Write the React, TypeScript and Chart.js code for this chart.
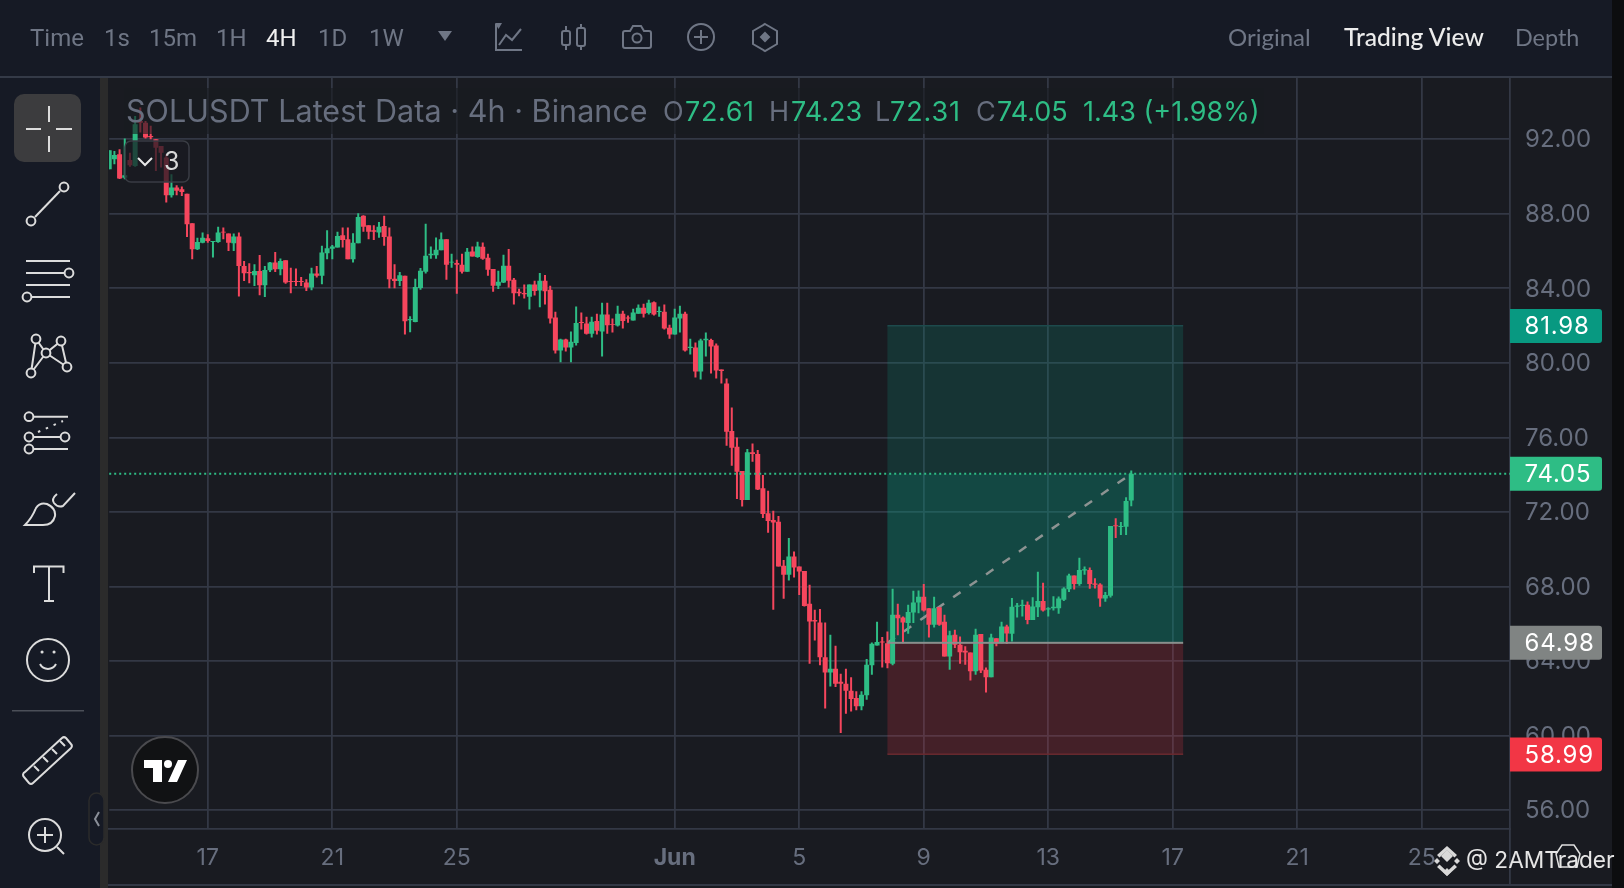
import React, { useEffect, useRef } from "react";
import { Chart, registerables } from "chart.js";

Chart.register(...registerables);

const opens = [90.39,90.93,91.19,89.94,90.89,90.57,92.98,92.89,92.18,92.00,91.64,91.02,88.99,89.41,89.32,89.08,87.49,86.10,86.45,86.69,86.49,86.49,87.04,86.94,86.42,86.78,85.20,84.88,84.70,84.93,84.16,84.97,85.38,85.02,85.51,84.40,84.40,84.40,84.31,84.04,84.79,84.67,85.88,86.13,86.19,86.85,86.63,85.56,86.42,87.89,87.38,87.12,86.99,87.35,86.78,84.52,84.40,84.68,82.29,82.20,84.02,84.89,85.77,85.77,86.04,86.64,85.38,85.36,85.27,84.89,85.98,85.68,86.23,85.64,85.04,84.14,84.32,85.21,84.46,83.82,83.75,83.55,84.21,83.88,84.41,83.93,82.43,80.66,81.25,80.82,81.07,82.20,82.11,81.57,82.25,81.68,82.59,82.09,82.00,82.64,82.43,82.27,82.64,82.96,82.68,83.25,82.73,82.75,81.89,81.52,82.38,82.64,80.80,80.82,79.54,81.21,81.23,80.93,79.64,78.89,76.34,75.50,74.20,72.64,75.20,75.11,73.27,71.93,71.57,71.48,69.11,68.63,69.61,69.07,68.84,67.07,66.21,66.07,64.21,63.39,63.59,62.89,62.79,62.41,62.02,61.57,62.16,63.77,64.84,65.05,64.96,63.86,66.48,66.34,66.04,66.61,67.14,67.45,66.84,65.95,66.89,66.11,64.25,65.41,64.88,64.55,64.46,63.45,65.45,63.54,63.13,65.23,64.96,65.86,65.46,66.91,66.95,67.02,66.21,66.89,67.23,66.77,66.84,66.84,67.29,67.86,68.59,68.14,68.86,68.89,68.16,68.11,67.36,67.50,71.29,71.20,71.21,72.61];
const highs = [91.41,91.37,91.46,92.04,91.28,93.25,93.70,92.98,92.72,92.00,91.64,91.19,90.12,89.53,89.46,89.08,87.49,86.72,86.99,86.90,86.54,87.31,87.26,86.94,86.94,86.99,85.47,85.35,85.29,85.79,85.20,85.42,85.95,85.60,85.51,85.11,85.06,84.61,84.49,85.11,85.20,86.28,87.12,86.33,87.03,87.26,87.26,86.96,88.03,87.92,87.38,87.38,87.56,87.89,87.26,85.29,84.88,84.68,82.50,84.52,85.09,87.46,86.25,86.73,87.00,86.64,85.86,85.54,85.86,86.16,86.25,86.50,86.46,85.86,85.04,84.95,85.80,86.11,84.55,83.98,84.20,84.20,84.41,84.82,84.71,84.14,82.75,81.30,81.30,81.68,83.02,82.70,82.48,82.48,82.64,83.23,83.23,82.38,83.07,82.80,82.54,82.91,83.13,83.18,83.39,83.29,83.02,83.13,82.05,82.91,83.07,82.75,81.30,81.09,81.30,81.63,81.30,81.04,79.64,79.16,77.61,76.00,74.20,75.38,75.68,75.32,73.98,73.14,72.07,71.79,69.43,70.61,69.88,69.07,68.84,68.09,66.75,66.80,66.07,65.41,64.82,63.32,63.59,63.13,62.38,62.38,64.11,65.00,66.11,65.29,65.59,67.88,67.07,66.39,67.02,67.77,67.79,68.14,66.84,67.45,66.89,66.48,65.63,65.68,65.32,64.79,64.46,65.73,65.45,63.66,65.46,65.23,66.11,65.95,67.38,67.11,67.29,67.20,67.43,68.79,68.20,66.89,67.48,67.46,67.96,68.68,68.59,69.54,69.07,69.02,68.45,68.18,67.71,71.25,71.66,71.46,72.79,74.23];
const lows = [90.39,90.66,89.87,89.85,90.53,90.53,92.36,92.04,92.00,90.30,90.48,88.60,88.87,88.99,88.96,86.76,85.56,86.06,86.42,86.45,85.65,86.45,86.63,86.01,86.01,83.56,84.40,84.27,84.13,83.63,83.54,84.88,84.88,84.70,84.25,83.74,84.13,84.13,83.86,83.90,84.58,84.22,85.56,85.56,86.19,86.19,85.56,85.38,86.42,87.03,86.63,86.60,86.72,86.28,84.00,84.00,84.13,81.52,81.64,82.18,83.93,84.79,85.59,85.59,86.04,84.46,85.11,83.71,84.79,84.89,85.71,85.64,85.54,84.68,83.82,83.96,84.29,84.04,83.13,83.57,83.45,82.86,83.61,82.98,83.13,82.11,80.50,80.04,80.61,80.04,80.93,81.79,81.52,81.36,81.52,80.34,81.57,81.63,81.95,81.84,82.16,82.27,82.64,82.43,82.59,82.54,82.48,81.79,81.30,81.52,81.63,80.61,80.45,79.21,79.11,80.34,79.43,79.16,78.89,75.55,74.48,72.70,72.29,72.64,74.70,73.18,71.68,70.89,66.75,69.07,67.34,68.32,68.48,67.55,66.93,63.86,65.11,63.77,61.45,62.64,62.61,60.14,61.18,61.30,61.36,61.36,61.93,63.27,64.84,63.66,63.61,63.77,65.38,64.96,65.46,66.04,66.57,66.66,65.27,65.80,65.89,64.25,63.54,64.70,63.86,63.80,62.96,63.27,63.36,62.32,63.13,64.79,64.96,64.91,65.05,66.34,66.39,65.98,66.21,66.36,66.66,66.39,66.71,66.54,67.23,67.71,67.84,68.04,68.63,67.88,67.89,66.91,67.18,67.41,70.61,70.77,70.77,72.31];
const closes = [91.41,91.16,89.89,90.07,90.60,92.81,92.89,92.09,92.11,91.55,91.28,88.99,89.41,89.23,89.17,87.44,86.10,86.49,86.72,86.54,86.54,86.99,86.99,86.45,86.78,85.20,84.81,84.81,84.93,84.16,84.99,85.38,85.02,85.47,84.31,84.34,84.34,84.34,84.04,84.79,84.67,85.92,86.15,86.24,86.81,86.60,85.56,86.45,87.83,87.31,87.03,87.03,87.31,86.76,84.49,84.40,84.70,82.23,82.36,84.07,84.95,85.75,85.86,86.07,86.64,85.27,85.43,85.27,84.89,85.96,85.71,86.25,85.59,85.00,84.14,84.36,85.21,84.41,83.73,83.73,83.68,84.20,83.86,84.41,83.84,82.38,80.66,81.25,80.82,81.14,82.14,82.14,81.57,82.21,81.73,82.59,82.02,82.04,82.64,82.25,82.38,82.70,82.96,82.64,83.23,82.59,82.79,81.84,81.52,82.43,82.64,80.66,80.86,79.54,81.20,81.29,80.88,79.59,79.57,76.30,75.45,74.16,72.64,75.20,75.11,73.21,71.89,71.52,71.43,69.07,68.63,69.61,69.02,68.80,66.96,66.13,66.13,64.20,63.39,63.59,62.79,62.79,62.41,61.96,61.57,62.20,63.80,64.93,65.02,65.00,63.89,66.48,66.30,66.07,66.64,67.14,67.45,66.71,65.95,66.84,65.95,64.25,65.38,64.88,64.48,64.46,63.45,65.41,63.50,63.13,65.27,64.96,65.86,65.48,66.91,66.98,67.02,66.21,66.93,67.23,66.71,66.84,66.91,67.36,67.89,68.59,68.14,68.89,68.93,68.14,68.09,67.36,67.55,71.25,71.23,71.25,72.59,74.05];

const tickDays = ["May 17", "May 21", "May 25", "Jun 1", "Jun 5", "Jun 9", "Jun 13", "Jun 17", "Jun 21", "Jun 25"];
const tickLabels = ["17", "21", "25", "Jun", "5", "9", "13", "17", "21", "25"];
const priceTicks = [56, 60, 64, 68, 72, 76, 80, 84, 88, 92];
const priceRange = [54.99, 95.34];

const takeProfit = 81.98;
const entryPrice = 64.98;
const stopLoss = 58.99;
const lastPrice = 74.05;
const positionSpan = [150, 207];

const GREEN = "#2ebd85";
const RED = "#f6465d";
const GRID = "#333845";
const MUTED = "#676e7e";
const TICK_FONT = "Inter";

const monthNames = ["May", "Jun"];
const categories: string[] = [];
for (let i = 0; i < 271; i++) {
  const t = new Date(Date.UTC(2024, 4, 13, 20 + i * 4));
  categories.push(`${monthNames[t.getUTCMonth() - 4]} ${t.getUTCDate()} ${String(t.getUTCHours()).padStart(2, "0")}:00`);
}

const riskZonePlugin = {
  id: "riskZone",
  beforeDatasetsDraw(chart: any) {
    const { ctx, scales } = chart;
    const x0 = scales.x.getPixelForValue(positionSpan[0]);
    const x1 = scales.x.getPixelForValue(positionSpan[1]);
    const py = (v: number) => scales.y.getPixelForValue(v);
    const w = x1 - x0;
    ctx.save();
    ctx.fillStyle = "rgba(8,153,129,0.2)";
    ctx.fillRect(x0, py(takeProfit), w, py(entryPrice) - py(takeProfit));
    ctx.fillRect(x0, py(lastPrice), w, py(entryPrice) - py(lastPrice));
    ctx.fillStyle = "rgba(242,54,69,0.2)";
    ctx.fillRect(x0, py(entryPrice), w, py(stopLoss) - py(entryPrice));
    ctx.fillStyle = "#6a2a30";
    ctx.fillRect(x0, py(stopLoss) - 1, w, 1.5);
    ctx.fillStyle = "#1d4a4c";
    ctx.fillRect(x0, py(takeProfit) - 1, w, 1.5);
    ctx.restore();
  },
  afterDatasetsDraw(chart: any) {
    const { ctx, scales } = chart;
    const x0 = scales.x.getPixelForValue(positionSpan[0]);
    const x1 = scales.x.getPixelForValue(positionSpan[1]);
    ctx.save();
    ctx.fillStyle = "#8a8f8d";
    ctx.fillRect(x0, scales.y.getPixelForValue(entryPrice) - 1, x1 - x0, 2);
    ctx.restore();
  },
  afterDraw(chart: any) {
    const { ctx, scales } = chart;
    const tags: [number, string][] = [
      [takeProfit, "#089981"],
      [lastPrice, GREEN],
      [entryPrice, "#808483"],
      [stopLoss, "#f23645"],
    ];
    ctx.save();
    ctx.font = `24px ${TICK_FONT}`;
    ctx.textBaseline = "middle";
    ctx.textAlign = "left";
    ctx.letterSpacing = "0.8px";
    for (const [v, c] of tags) {
      const y = scales.y.getPixelForValue(v);
      ctx.fillStyle = c;
      ctx.beginPath();
      ctx.roundRect(1510, y - 17, 92, 34, [0, 3, 3, 0]);
      ctx.fill();
      ctx.fillStyle = "#ffffff";
      ctx.fillText(v.toFixed(2), 1524.5, y + 1);
    }
    ctx.restore();
  },
};

const T = (p: any) => <text fontFamily="Roboto" fontSize={24} dominantBaseline="middle" {...p} />;

function Overlay() {
  const ink = "#dcdcdc";
  const headerInk = "#6f7685";
  const dot = (cx: number, cy: number, r = 4.4) => <circle cx={cx} cy={cy} r={r} fill="#161a25" stroke={ink} strokeWidth={2} />;
  return (
    <svg width={1624} height={888} style={{ position: "absolute", left: 0, top: 0 }}>
      <rect x={0} y={0} width={1612} height={76} fill="#161a25" />
      <rect x={0} y={76} width={1612} height={2} fill="#343a47" />
      <rect x={0} y={78} width={100} height={810} fill="#161a25" />
      <rect x={100} y={78} width={8} height={810} fill="#2b2b2b" />
      <rect x={1612} y={0} width={12} height={888} fill="#0c0d0f" />
      <rect x={1509} y={829} width={1.8} height={56} fill={GRID} />
      <rect x={108} y={884} width={1504} height={2} fill={GRID} />

      <g fill={headerInk}>
        <T x={30} y={40}>Time</T>
        <T x={104} y={40}>1s</T>
        <T x={149} y={40}>15m</T>
        <T x={216} y={40}>1H</T>
        <T x={266} y={40} fill="#f0f0f0">4H</T>
        <T x={318} y={40}>1D</T>
        <T x={369} y={40}>1W</T>
        <path d="M438 31 h14 l-7 10 z" />
      </g>
      <g fill="none" stroke={headerInk} strokeWidth={2}>
        <path d="M496 24 v26 h26 M499 45 l7 -10 l6 5 l9 -11" />
        <path d="M495 23 h7 l-3.5 6 z" fill={headerInk} stroke="none" />
        <rect x={562} y={31} width={8} height={14} rx={2} />
        <rect x={577} y={28} width={8} height={18} rx={2} />
        <path d="M566 26 v5 M566 45 v5 M581 24 v4 M581 46 v4" />
        <path d="M625 31 h5 l3 -5 h8 l3 5 h5 a2 2 0 0 1 2 2 v13 a2 2 0 0 1 -2 2 h-24 a2 2 0 0 1 -2 -2 v-13 a2 2 0 0 1 2 -2 z" />
        <circle cx={637} cy={38} r={4.5} />
        <circle cx={701} cy={37} r={13} />
        <path d="M701 30 v14 M694 37 h14" />
        <path d="M765 24 l12 7 v13 l-12 7 l-12 -7 v-13 z" />
        <path d="M765 33 l4 4 l-4 4 l-4 -4 z" fill={headerInk} />
      </g>

      <T x={1228} y={40} fontFamily="Lato" fontSize={24} fill={headerInk}>Original</T>
      <T x={1344} y={40} fontFamily="Lato" fontSize={24.6} fontWeight={500} fill="#ececec">Trading View</T>
      <T x={1515} y={40} fontFamily="Lato" fontSize={23.4} fill={headerInk}>Depth</T>

      <rect x={124} y={88} width={1140} height={46} fill="rgba(25,27,33,0.62)" />
      <T x={126} y={114} fontFamily="Inter" fontSize={30.5} letterSpacing={0.05} fill={MUTED}>SOLUSDT Latest Data · 4h · Binance</T>
      <T x={663} y={114} fontFamily="Inter" fontSize={27} fill={MUTED}>O</T>
      <T x={685} y={114} fontFamily="Inter" fontSize={27} letterSpacing={0.6} fill={GREEN}>72.61</T>
      <T x={769} y={114} fontFamily="Inter" fontSize={27} fill={MUTED}>H</T>
      <T x={791} y={114} fontFamily="Inter" fontSize={27} fill={GREEN}>74.23</T>
      <T x={875} y={114} fontFamily="Inter" fontSize={27} fill={MUTED}>L</T>
      <T x={890} y={114} fontFamily="Inter" fontSize={27} letterSpacing={0.9} fill={GREEN}>72.31</T>
      <T x={976} y={114} fontFamily="Inter" fontSize={27} fill={MUTED}>C</T>
      <T x={997} y={114} fontFamily="Inter" fontSize={27} fill={GREEN}>74.05</T>
      <T x={1083} y={114} fontFamily="Inter" fontSize={27} fill={GREEN}>1.43 (+1.98%)</T>

      <rect x={125} y={141} width={64} height={41} rx={6} fill="rgba(25,27,33,0.72)" stroke="#3a3d44" strokeWidth={1.5} />
      <path d="M138 158 l7 7 l7 -7" fill="none" stroke="#e8e8e8" strokeWidth={2} />
      <T x={164} y={163} fontFamily="Inter" fontSize={25} fill="#d8d8d8">3</T>

      <rect x={14} y={94} width={67} height={68} rx={10} fill="#3c3c3e" />
      <g fill="none" stroke={ink} strokeWidth={2}>
        <path d="M49 106 v16 M49 136 v16 M26 129 h15 M56 129 h16" />
        <path d="M35 217 L60 191" />
        {dot(31, 221)}
        {dot(64, 187)}
        <path d="M26 261 h44 M26 273 h39 M26 285 h44 M31 297 h39" />
        {dot(69, 273)}
        {dot(27, 297)}
        <path d="M31 373 L36 339 L46 353 L61 341 L67 367 M31 373 L46 353 L67 367" />
        {dot(36, 339)}
        {dot(61, 341)}
        {dot(46, 353)}
        {dot(31, 373)}
        {dot(67, 367)}
        <path d="M33 416.700 h35 M33 437 h28 M33 449 h35" />
        <path d="M38 432 L63 421" strokeDasharray="2.500 6" />
        {dot(29, 416.7)}
        {dot(29, 437)}
        {dot(65, 437)}
        {dot(29, 449)}
        <path d="M25 525 Q32 518 36 508 Q40 502 47 504 Q56 508 55 516 Q53 525 43 525 Z" />
        <path d="M57 494 Q51 499 54 503 Q58 508 63 506 L75 493" />
        <path d="M34 573 v-6.500 h29.500 v6.500 M49 566.500 v35 M44 601 h10" />
        <circle cx={48} cy={660} r={21} />
        <path d="M40 664 a9 9 0 0 0 16 0" />
        <path d="M42 652 h.1 M54 652 h.1" strokeWidth={3} strokeLinecap="round" />
        <path d="M25 772 l37 -34 a3 3 0 0 1 4 0 l5 6 a3 3 0 0 1 0 4 l-38 35 a3 3 0 0 1 -4 0 l-5 -6 a3 3 0 0 1 1 -5 z" />
        <path d="M34 766 l5 5 M43 757 l5 5 M52 749 l5 5 M60 741 l5 5" />
        <circle cx={45} cy={835} r={16} />
        <path d="M45 827 v16 M37 835 h16 M57 847 l7 7" />
      </g>
      <rect x={12} y={710} width={72} height={1.5} fill="#4b4f58" />
      <rect x={89} y={793} width={15} height={52} rx={7.5} fill="#161a25" stroke="#2b2b2b" strokeWidth={1.5} />
      <path d="M99 812 l-4 7 l4 7" fill="none" stroke="#8a8f99" strokeWidth={2} />

      <circle cx={165} cy={770} r={33} fill="#111214" stroke="#4a4a4e" strokeWidth={2} />
      <path d="M144 760 h18 v22 h-9 v-14 h-9 z M178 760 h9 l-10 22 h-9 z" fill="#ffffff" />
      <circle cx={168} cy={764} r={4} fill="#ffffff" />

      <path d="M1562 845 h12 l6 9 l-3 13 h-18 l-3 -13 z" fill="none" stroke="#e0e0e0" strokeWidth={1.5} />
      <g fill="#d8d8d8">
        <path d="M1447 850 l6 6 l-6 6 l-6 -6 z M1447 868 l4 4 l-4 4 l-4 -4 z M1437 858 l3 3 l-3 3 l-3 -3 z M1457 858 l3 3 l-3 3 l-3 -3 z" />
        <path d="M1447 846 l10 9 l-2.500 2.500 l-7.500 -7 l-7.500 7 l-2.500 -2.500 z M1447 876 l10 -9 l-2.500 -2.500 l-7.500 7 l-7.500 -7 l-2.500 2.500 z" />
      </g>
      <T x={1466} y={862} fontFamily="Inter" fontSize={22.7} fill="#e6e6e6">@ 2AMTrader</T>
    </svg>
  );
}

export default function App() {
  const ref = useRef<HTMLCanvasElement>(null);
  useEffect(() => {
    if (!ref.current) return;
    const bodyData = opens.map((o, i) => [Math.min(o, closes[i]), Math.max(o, closes[i])]);
    const wickData = lows.map((l, i) => [l, highs[i]]);
    const colors = opens.map((o, i) => (closes[i] >= o ? GREEN : RED));
    const lastLine = categories.map(() => lastPrice);
    const tradeLine = categories.map((_, i) =>
      i === positionSpan[0] ? entryPrice : i === opens.length - 1 ? lastPrice : null
    );
    const chart = new Chart(ref.current, {
      type: "bar",
      plugins: [riskZonePlugin],
      data: {
        labels: categories,
        datasets: [
          {
            type: "line",
            data: tradeLine,
            spanGaps: true,
            borderColor: "#8d9392",
            borderWidth: 2.5,
            borderDash: [9, 11],
            pointRadius: 0,
            order: 4,
          },
          { data: wickData, backgroundColor: colors, barThickness: 2, grouped: false, order: 3, inflateAmount: 0 },
          { data: bodyData, backgroundColor: colors, barThickness: 5, grouped: false, order: 2, inflateAmount: 0 },
          {
            type: "line",
            data: lastLine,
            borderColor: GREEN,
            borderWidth: 2,
            borderDash: [2, 3],
            pointRadius: 0,
            order: 1,
          },
        ] as any,
      },
      options: {
        responsive: false,
        animation: false,
        layout: { padding: { left: 109.2, top: 77, right: 0, bottom: 0 } },
        plugins: { legend: { display: false }, tooltip: { enabled: false } },
        scales: {
          x: {
            type: "category",
            offset: false,
            afterFit: (s: any) => { s.height = 59; },
            afterBuildTicks: (s: any) => {
              s.ticks = tickDays.map((d) => ({ value: categories.indexOf(`${d} 00:00`) }));
            },
            grid: { color: GRID, lineWidth: 1.8, drawTicks: false, offset: false },
            border: { color: GRID, width: 1.8 },
            ticks: {
              autoSkip: false,
              maxRotation: 0,
              padding: 15,
              color: MUTED,
              font: (c: any) => ({ family: TICK_FONT, size: 23, weight: tickLabels[c.index] === "Jun" ? "bold" : "normal" }),
              callback: (_v: any, i: number) => tickLabels[i],
            },
          },
          y: {
            position: "right",
            min: priceRange[0],
            max: priceRange[1],
            afterFit: (s: any) => { s.width = 114; },
            afterBuildTicks: (s: any) => { s.ticks = priceTicks.map((value) => ({ value })); },
            grid: { color: GRID, lineWidth: 1.8, drawTicks: false },
            border: { color: GRID, width: 1.8 },
            ticks: {
              padding: 15,
              labelOffset: 1,
              color: MUTED,
              font: { family: TICK_FONT, size: 24 },
              callback: (v: any) => Number(v).toFixed(2),
            },
          },
        },
      } as any,
    });
    return () => chart.destroy();
  }, []);
  return (
    <div style={{ position: "fixed", left: 0, top: 0, width: 1624, height: 888, background: "#191b21", overflow: "hidden" }}>
      <canvas ref={ref} width={1624} height={888} style={{ position: "absolute", left: 0, top: 0, display: "block" }} />
      <Overlay />
    </div>
  );
}
